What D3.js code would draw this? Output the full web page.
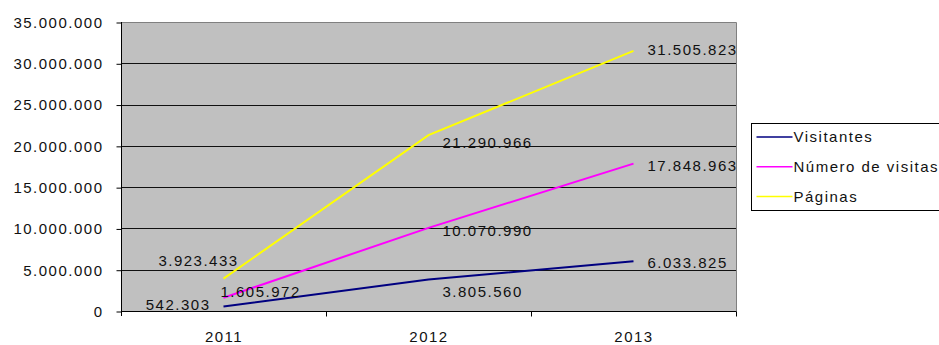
<!DOCTYPE html>
<html>
<head>
<meta charset="utf-8">
<script src="https://cdn.jsdelivr.net/npm/d3@7"></script>
<style>
  body { margin: 0; background: #fff; }
  text { font-family: Arial, "Liberation Sans", sans-serif; font-size: 15px; fill: #111; letter-spacing: 1.5px; }
</style>
</head>
<body>
<div id="chart"></div>
<script>
// data
let years = ['2011', '2012', '2013'];
let seriesNames = ['Visitantes', 'Número de visitas', 'Páginas'];
let visitantes = [542303, 3805560, 6033825];
let numeroVisitas = [1605972, 10070990, 17848963];
let paginas = [3923433, 21290966, 31505823];
let yTicks = [0, 5000000, 10000000, 15000000, 20000000, 25000000, 30000000, 35000000];

let colors = ['#000080', '#ff00ff', '#ffff00'];

// where excel put each value label, relative to its point [dx, dy, anchor]
// one row per series, one entry per year
let labelPlace = [
    [[-13, 3, 'end'], [14, 17, 'start'], [14, 7, 'start']],
    [[-3, -1, 'start'], [14, 8.5, 'start'], [14, 7, 'start']],
    [[-25, -13, 'middle'], [14, 13, 'start'], [14, 4.5, 'start']]
];

let allSeries = [visitantes, numeroVisitas, paginas];

let width = 939, height = 345;
let margin = {top: 22, right: 203, bottom: 34, left: 121};

let svg = d3.select('#chart')
    .append('svg')
    .attr('width', width)
    .attr('height', height);

let x = d3.scalePoint()
    .domain(years)
    .range([margin.left, width - margin.right])
    .padding(0.5);
let xBand = d3.scaleBand()
    .domain(years)
    .range([margin.left, width - margin.right]);

let y = d3.scaleLinear()
    .domain([0, 35000000])
    .range([height - margin.bottom, margin.top]);

let fmt = d3.formatLocale({decimal: ',', thousands: '.', grouping: [3], currency: ['', '']}).format(',d');

// plot area
svg.append('rect')
    .attr('x', margin.left)
    .attr('y', margin.top)
    .attr('width', width - margin.right - margin.left)
    .attr('height', y(0) - margin.top)
    .style('fill', '#c0c0c0');

// gridlines
svg.append('g')
    .selectAll('line')
    .data(yTicks.slice(1, -1))
    .enter().append('line')
    .attr('x1', margin.left)
    .attr('x2', width - margin.right)
    .attr('y1', d => Math.round(y(d)) + 0.5)
    .attr('y2', d => Math.round(y(d)) + 0.5)
    .style('stroke', '#111')
    .style('stroke-width', 1);

// top and right border
svg.append('path')
    .attr('d', 'M' + margin.left + ',' + (margin.top + 0.5) + 'H' + (width - margin.right + 0.5) + 'V' + y(0))
    .style('fill', 'none')
    .style('stroke', '#808080')
    .style('stroke-width', 1);

// y axis
let yAxis = d3.axisLeft(y)
    .tickValues(yTicks)
    .tickSize(5)
    .tickPadding(13)
    .tickFormat(fmt);
let gy = svg.append('g')
    .attr('transform', 'translate(' + (margin.left + 0.5) + ',0)')
    .call(yAxis);
gy.select('.domain').attr('d', 'M0,' + margin.top + 'V' + (y(0) + 5));
gy.selectAll('.tick line').attr('transform', 'translate(0,0.5)');
gy.selectAll('text').attr('dy', '0.36em').style('font-size', '15px').style('font-family', 'Arial, "Liberation Sans", sans-serif').attr('fill', '#111');

// x axis
let xAxis = d3.axisBottom(x)
    .tickSize(0)
    .tickPadding(20);
let gx = svg.append('g')
    .attr('transform', 'translate(0,' + (Math.round(y(0)) + 0.5) + ')')
    .call(xAxis);
gx.select('.domain').attr('d', 'M' + margin.left + ',0H' + (width - margin.right + 0.5));
gx.selectAll('text').style('font-size', '15px').style('font-family', 'Arial, "Liberation Sans", sans-serif').attr('fill', '#111');
gx.selectAll('.bandtick')
    .data(years)
    .enter().append('line')
    .attr('x1', d => Math.round(xBand(d) + xBand.bandwidth()) + 0.5)
    .attr('x2', d => Math.round(xBand(d) + xBand.bandwidth()) + 0.5)
    .attr('y1', 0)
    .attr('y2', 5)
    .style('stroke', '#000');

// lines
let line = d3.line()
    .x((d, i) => x(years[i]))
    .y(d => y(d));

svg.append('g')
    .selectAll('path')
    .data(allSeries)
    .enter().append('path')
    .attr('d', line)
    .style('fill', 'none')
    .style('stroke', (d, i) => colors[i])
    .style('stroke-width', 2);

// value labels
allSeries.forEach(function (s, si) {
    svg.append('g')
        .selectAll('text')
        .data(s)
        .enter().append('text')
        .attr('x', (d, i) => x(years[i]) + labelPlace[si][i][0])
        .attr('y', (d, i) => y(d) + labelPlace[si][i][1])
        .attr('text-anchor', (d, i) => labelPlace[si][i][2])
        .text(d => fmt(d));
});

// legend
let legend = svg.append('g')
    .attr('transform', 'translate(751.5,123.5)');
legend.append('rect')
    .attr('width', 200)
    .attr('height', 87)
    .style('fill', '#fff')
    .style('stroke', '#000');
let item = legend.selectAll('.item')
    .data(seriesNames)
    .enter().append('g')
    .attr('transform', (d, i) => 'translate(0,' + (13.5 + i * 29.7) + ')');
item.append('line')
    .attr('x1', 5)
    .attr('x2', 41)
    .style('stroke', (d, i) => colors[i])
    .style('stroke-width', 1.5);
item.append('text')
    .attr('x', 42)
    .attr('dy', '0.36em')
    .text(d => d);
</script>
</body>
</html>
